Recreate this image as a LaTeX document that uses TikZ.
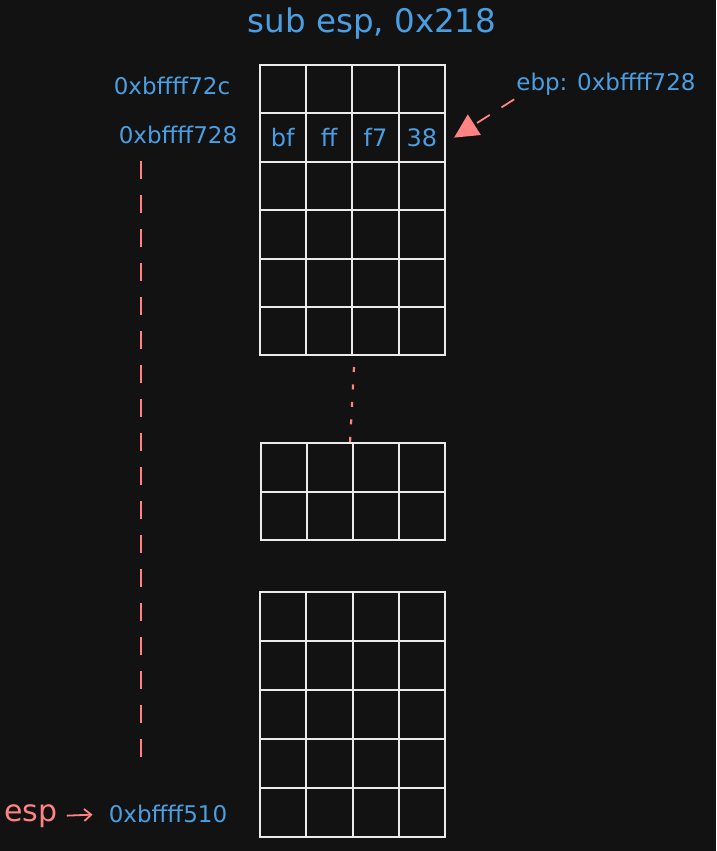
\documentclass[tikz,border=0pt]{standalone}
\usepackage{fontspec}
\setmainfont{DejaVu Sans}
\usetikzlibrary{arrows.meta}
\definecolor{bgdark}{RGB}{18,18,18}
\definecolor{myblue}{RGB}{74,158,226}
\definecolor{myred}{RGB}{255,131,131}
\definecolor{mygrid}{RGB}{235,235,235}
\tikzset{
  cell/.style={draw=mygrid,line width=2pt,minimum width=#1,minimum height=48.5pt,inner sep=0pt,
    text=myblue,font=\fontsize{24}{28}\selectfont},
  cell/.default=46.4pt,
  addr/.style={text=myblue,inner sep=0pt,font=\fontsize{23}{27}\selectfont}
}

\begin{document}
\begin{tikzpicture}[x=1pt,y=-1pt]
        \fill[bgdark] (0,0) rectangle (716,851);
        \useasboundingbox (0,0) rectangle (716,851);
        \node[text=myblue,font=\fontsize{32.5}{38}\selectfont] (title) at (372,24) {sub esp, 0x218};
        % top block
        \foreach \r in {1,...,6}
          \foreach \c in {1,...,4}
            \node[cell] (t-\r-\c) at ({259.5+(\c-0.5)*46.4},{65+(\r-0.5)*48.4}) {};
        \node[cell,draw=none] at (t-2-1) {bf};
        \node[cell,draw=none] at (t-2-2) {ff};
        \node[cell,draw=none] at (t-2-3) {f7};
        \node[cell,draw=none] at (t-2-4) {38};
        % middle block
        \foreach \r in {1,2}
          \foreach \c in {1,...,4}
            \node[cell=46pt] (m-\r-\c) at ({261+(\c-0.5)*46},{443+(\r-0.5)*48.5}) {};
        % bottom block
        \foreach \r in {1,...,5}
          \foreach \c in {1,...,4}
            \node[cell=46.3pt] (b-\r-\c) at ({260+(\c-0.5)*46.3},{592+(\r-0.5)*49}) {};
        % addresses
        \node[addr] (addr72c) at (172,86) {0xbffff72c};
        \node[addr] (addr728) at (178,135) {0xbffff728};
        \node[addr] (addr510) at (168,814) {0xbffff510};
        \node[addr] (ebplabel) at (606,84) {ebp: 0xbffff728};
        \node[text=myred,inner sep=0pt,font=\fontsize{30}{34}\selectfont] (esplabel) at (31,816) {esp};
        \draw[myred,line width=1.8pt,dash pattern=on 15pt off 14pt,-{Triangle[length=24pt,width=24pt]}]
          ([xshift=-2pt,yshift=-4pt]ebplabel.south west) -- ([xshift=8pt]t-2-4.east);
        \draw[myred,line width=1.8pt,-{Straight Barb[length=7pt,width=12pt]},shorten <=9pt,shorten >=16pt] (esplabel.east) -- (addr510.west);
        % span from ebp down to esp
        \coordinate (spantop) at (141,161);
        \coordinate (spanbot) at (141,765);
        \draw[myred,line width=1.8pt,dash pattern=on 18pt off 16pt] (spantop) -- (spanbot);
        \coordinate (dotstart) at (354,367);
        \coordinate (dotend) at (350,443);
        \draw[myred,line width=2.2pt,dash pattern=on 5pt off 12.5pt] (dotstart) -- (dotend);
\end{tikzpicture}
\end{document}
